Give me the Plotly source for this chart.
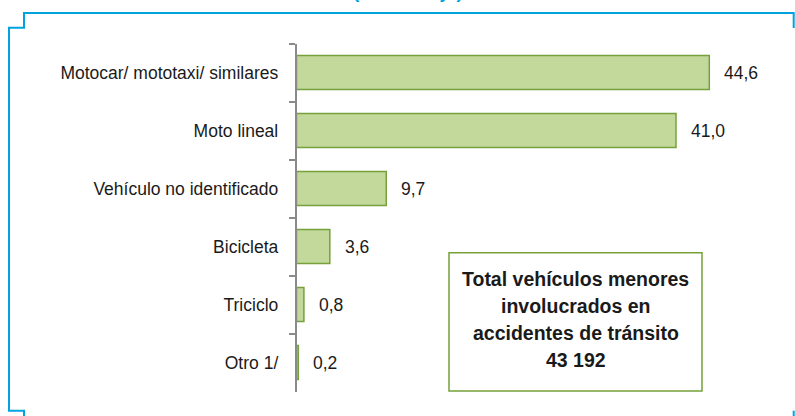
import plotly.graph_objects as go

# Vehicle categories (top to bottom) and their share in percent
categories = [
    "Motocar/ mototaxi/ similares",
    "Moto lineal",
    "Vehículo no identificado",
    "Bicicleta",
    "Triciclo",
    "Otro 1/",
]
shares = [44.6, 41.0, 9.7, 3.6, 0.8, 0.2]

box_lines = [
    "Total vehículos menores",
    "involucrados en",
    "accidentes de tránsito",
    "43 192",
]
subtitle = "(Porcentaje)"

W, H = 795, 416
FONT = "Liberation Sans, Arial, sans-serif"
BLUE = "#00A3E0"
BAR_FILL = "#C3D99C"
BAR_EDGE = "#76A03A"
AXIS_GREY = "#8A8A8A"
TEXT = "#1A1A1A"


def px(x):
    return x / W


def py(y):
    return 1 - y / H


plot_left, plot_right = 296.5, 779.0
plot_top, plot_bottom = 43.5, 391.5
px_per_unit = 9.256

fig = go.Figure()
fig.add_trace(
    go.Bar(
        x=shares,
        y=categories,
        orientation="h",
        width=0.59,
        marker=dict(color=BAR_FILL, line=dict(color=BAR_EDGE, width=1.5)),
        hoverinfo="skip",
    )
)

annotations = []
# value labels next to each bar
for cat, v in zip(categories, shares):
    annotations.append(
        dict(
            x=v,
            y=cat,
            xref="x",
            yref="y",
            text=f"{v:.1f}".replace(".", ","),
            showarrow=False,
            xanchor="left",
            yanchor="middle",
            xshift=13,
            font=dict(family=FONT, size=17.5, color=TEXT),
        )
    )

# total box text
box_x0, box_x1, box_y0, box_y1 = 449, 702, 252.7, 391
line_centers = [279.0, 306.0, 333.0, 360.0]
for txt, yc in zip(box_lines, line_centers):
    annotations.append(
        dict(
            x=px((box_x0 + box_x1) / 2),
            y=py(yc),
            xref="paper",
            yref="paper",
            text=f"<b>{txt}</b>",
            showarrow=False,
            xanchor="center",
            yanchor="middle",
            font=dict(family=FONT, size=19.5, color=TEXT),
        )
    )

# subtitle line above the frame, mostly cut off by the top edge
annotations.append(
    dict(
        x=px(408),
        y=1,
        xref="paper",
        yref="paper",
        text=f"<b>{subtitle}</b>",
        showarrow=False,
        xanchor="center",
        yanchor="bottom",
        yshift=-4,
        font=dict(family=FONT, size=19, color=BLUE),
    )
)


def path(points):
    return "M " + " L ".join(f"{px(x):.5f},{py(y):.5f}" for x, y in points)


shapes = [
    # blue frame pieces
    dict(
        type="path",
        xref="paper",
        yref="paper",
        path=path([(24, 416), (24, 410.7), (9, 410.7), (9, 27.7), (24, 27.7), (24, 13), (793.7, 13), (793.7, 28)]),
        line=dict(color=BLUE, width=2),
    ),
    dict(
        type="path",
        xref="paper",
        yref="paper",
        path=path([(793.7, 410.7), (793.7, 416)]),
        line=dict(color=BLUE, width=2),
    ),
    # total box
    dict(
        type="rect",
        xref="paper",
        yref="paper",
        x0=px(box_x0),
        x1=px(box_x1),
        y0=py(box_y1),
        y1=py(box_y0),
        line=dict(color=BAR_EDGE, width=1.5),
        fillcolor="rgba(0,0,0,0)",
    ),
]

fig.update_layout(
    width=W,
    height=H,
    margin=dict(l=0, r=0, t=0, b=0),
    paper_bgcolor="white",
    plot_bgcolor="white",
    showlegend=False,
    annotations=annotations,
    shapes=shapes,
    xaxis=dict(
        domain=[px(plot_left), px(plot_right)],
        range=[0, (plot_right - plot_left) / px_per_unit],
        visible=False,
        fixedrange=True,
    ),
    yaxis=dict(
        domain=[py(plot_bottom), py(plot_top)],
        categoryorder="array",
        categoryarray=categories,
        autorange="reversed",
        showline=True,
        linecolor=AXIS_GREY,
        linewidth=1.5,
        ticks="outside",
        tickson="boundaries",
        ticklen=6,
        tickwidth=1.5,
        tickcolor=AXIS_GREY,
        ticklabelstandoff=13,
        showgrid=False,
        zeroline=False,
        automargin=False,
        tickfont=dict(family=FONT, size=17.5, color=TEXT),
        fixedrange=True,
    ),
)

fig.write_html("out.html")
